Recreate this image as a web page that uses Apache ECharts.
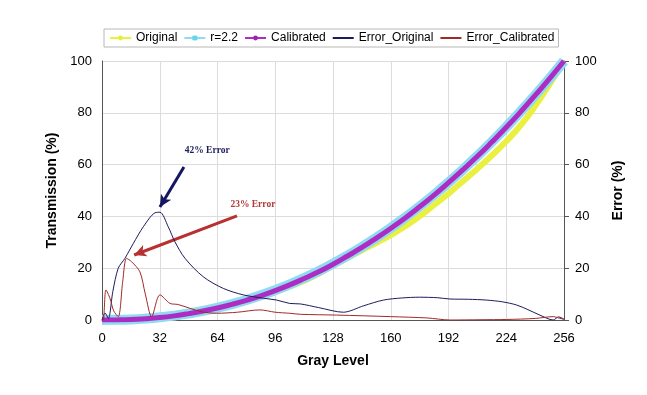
<!DOCTYPE html>
<html>
<head>
<meta charset="utf-8">
<script src="https://cdn.jsdelivr.net/npm/echarts@6/dist/echarts.min.js"></script>
<style>html,body{margin:0;padding:0;background:#fff}#c{width:647px;height:395px}</style>
</head>
<body>
<div id="c"></div>
<script>
// Transmission curves, sampled every 8 gray levels
var grayLevels = [0,8,16,24,32,40,48,56,64,72,80,88,96,104,112,120,128,136,144,152,160,168,176,184,192,200,208,216,224,232,240,248,256];
var originalVals = [0,0.04,0.17,0.35,0.6,1.1,1.9,2.9,4.1,5.5,7.1,8.8,10.7,12.9,15.2,17.8,21.0,23.9,26.9,29.8,32.8,36.2,40.0,44.4,48.8,53.6,58.4,63.5,69.0,75.2,82.6,91.0,100];
var gammaVals = [0,0.05,0.22,0.55,1.03,1.68,2.52,3.53,4.74,6.14,7.74,9.54,11.56,13.78,16.22,18.88,21.76,24.87,28.2,31.76,35.56,39.59,43.85,48.36,53.11,58.1,63.33,68.81,74.55,80.53,86.76,93.25,100];
var calibratedVals = [0,0.04,0.17,0.5,0.95,1.6,2.45,3.45,4.65,6.05,7.6,9.35,11.35,13.55,16.0,18.6,21.5,24.7,28.0,31.6,35.4,39.4,43.7,48.2,53.0,58.0,63.2,68.7,74.4,80.4,86.7,93.2,100];

// Error curves (gray level, error %)
var errOrigGray = [0,1.7,3.5,6,9,12.7,17.4,22.9,29.4,32.1,36.7,40.4,46,56.1,67.2,78.3,89.4,96.8,104,110,120,133.7,145,156,166,176,186,192.8,203,213,222,229.7,236,242.6,250,253,256];
var errOrigVals = [0,2.7,0.6,11,20,23.8,29.6,36,41.4,41.6,36,30.2,23.8,16.7,12.2,9.7,8.4,7.7,6.4,6.2,4.8,3.0,5.5,7.7,8.5,8.8,8.6,8.1,8.0,7.7,7.0,5.8,4.0,1.9,0,1.2,0.3];
var errCalGray = [0,0.7,2.2,4.4,6.5,9,11.5,13.6,16.4,21,24,27.5,32.1,37.7,42,48.8,55,63.5,75,87.5,96,104,110,130,160,180,193,210,224,240,250,252,256];
var errCalVals = [0,0,11.6,8.4,3.5,1.3,15,23.8,22.5,18.6,10,1.3,9.7,6.4,6.0,4.5,3.2,2.6,3.0,3.9,3.0,2.6,2.2,1.9,1.3,0.8,0,0.1,0.2,0.6,1.3,1.0,0.2];

var xTicks = [0,32,64,96,128,160,192,224,256];
var yTicks = [0,20,40,60,80,100];

function pairs(xs, ys){ return xs.map(function(x,i){ return [x, ys[i]]; }); }

var chart = echarts.init(document.getElementById('c'));
var FONT = 'Arial, "Liberation Sans", sans-serif';
var axisLbl = {color:'#000', fontFamily:FONT, fontSize:13};
var nameStyle = {color:'#000', fontFamily:FONT, fontSize:14, fontWeight:'bold'};
chart.setOption({
  animation:false,
  backgroundColor:'#fff',
  legend:{
    top:29, left:104,
    padding:[3,4,3,5],
    itemGap:6, itemWidth:21, itemHeight:6,
    borderColor:'#b8b8b8', borderWidth:1,
    textStyle:{color:'#000', fontFamily:FONT, fontSize:12},
    data:['Original','r=2.2','Calibrated',
      {name:'Error_Original', itemStyle:{opacity:0}},
      {name:'Error_Calibrated', itemStyle:{opacity:0}}]
  },
  grid:{left:102, right:83, top:61, bottom:75},
  xAxis:{
    type:'value', min:0, max:256, interval:32,
    name:'Gray Level', nameLocation:'middle', nameGap:34, nameTextStyle:nameStyle,
    axisLine:{lineStyle:{color:'#555'}},
    axisTick:{show:false},
    axisLabel:Object.assign({margin:12}, axisLbl),
    splitLine:{lineStyle:{color:'#dcdcdc'}}
  },
  yAxis:[{
    type:'value', min:0, max:100, interval:20,
    name:'Transmission (%)', nameLocation:'middle', nameGap:43, nameTextStyle:nameStyle,
    axisLine:{show:true, lineStyle:{color:'#555'}},
    axisTick:{show:false},
    axisLabel:Object.assign({margin:10}, axisLbl),
    splitLine:{lineStyle:{color:'#dcdcdc'}}
  },{
    type:'value', min:0, max:100, interval:20, position:'right',
    name:'Error (%)', nameLocation:'middle', nameGap:47, nameRotate:90, nameTextStyle:nameStyle,
    axisLine:{show:true, lineStyle:{color:'#555'}},
    axisTick:{show:true, length:5, lineStyle:{color:'#555'}},
    axisLabel:Object.assign({margin:11}, axisLbl),
    splitLine:{show:false}
  }],
  series:[{
    name:'Original', type:'line', smooth:true, data:pairs(grayLevels, originalVals),
    symbol:'circle', symbolSize:4, showSymbol:false, z:2,
    itemStyle:{color:'#e6ee3c'}, lineStyle:{color:'#eaf040', width:6}
  },{
    name:'r=2.2', type:'line', smooth:true, data:pairs(grayLevels, gammaVals),
    symbol:'path://M-1,-1L1,1M1,-1L-1,1M0,-1.4L0,1.4', symbolSize:8, showSymbol:false, z:3,
    itemStyle:{color:'#6ad4e8', borderColor:'#6ad4e8', borderWidth:1.5}, lineStyle:{color:'#8fdcf0', width:10}
  },{
    name:'Calibrated', type:'line', smooth:true, data:pairs(grayLevels, calibratedVals),
    symbol:'circle', symbolSize:4, showSymbol:false, z:4,
    itemStyle:{color:'#a020b0'}, lineStyle:{color:'#ac2cc4', width:5}
  },{
    name:'Error_Original', type:'line', yAxisIndex:1, smooth:0.3, data:pairs(errOrigGray, errOrigVals),
    symbol:'none', z:5,
    itemStyle:{color:'#1c1c5c'}, lineStyle:{color:'#1c1c5c', width:1},
    markLine:{silent:true, symbol:['none','arrow'], symbolSize:[9,12], label:{show:false},
      lineStyle:{color:'#151560', width:3, type:'solid'},
      data:[[{coord:[45.4,59.1]},{coord:[32.1,43.6]}]]}
  },{
    name:'Error_Calibrated', type:'line', yAxisIndex:1, smooth:0.3, data:pairs(errCalGray, errCalVals),
    symbol:'none', z:5,
    itemStyle:{color:'#a02a2a'}, lineStyle:{color:'#a02a2a', width:1},
    markLine:{silent:true, symbol:['none','arrow'], symbolSize:[9,12], label:{show:false},
      lineStyle:{color:'#b83030', width:3, type:'solid'},
      data:[[{coord:[74.8,40.2]},{coord:[17.8,25.1]}]]}
  }]
});
var p1 = chart.convertToPixel({xAxisIndex:0, yAxisIndex:0}, [58.3, 65.3]);
var p2 = chart.convertToPixel({xAxisIndex:0, yAxisIndex:0}, [83.6, 44.4]);
chart.setOption({graphic:[
  {type:'text', x:p1[0], y:p1[1], style:{text:'42% Error', fill:'#1c1c5c', font:'bold 9.5px "Liberation Serif", "DejaVu Serif", serif', align:'center', verticalAlign:'middle'}},
  {type:'text', x:p2[0], y:p2[1], style:{text:'23% Error', fill:'#b03a3a', font:'bold 9.5px "Liberation Serif", "DejaVu Serif", serif', align:'center', verticalAlign:'middle'}}
]});
</script>
</body>
</html>
